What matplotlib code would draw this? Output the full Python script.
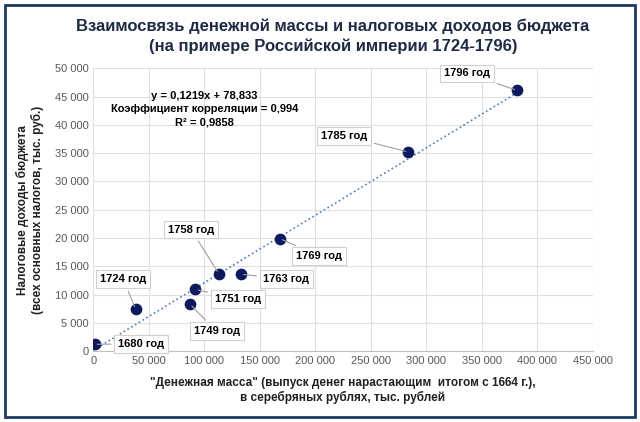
import matplotlib
matplotlib.use("Agg")
import matplotlib.pyplot as plt
import numpy as np
from matplotlib.patches import Rectangle

plt.rcParams['font.family'] = 'Liberation Sans'

years = ['1680', '1724', '1749', '1751', '1758', '1763', '1769', '1785', '1796']
money = [1000, 38000, 87000, 92000, 113000, 133000, 168000, 284000, 382000]
taxes = [1200, 7400, 8300, 10900, 13700, 13600, 19900, 35200, 46100]

# label box centres (data coords)
label_pos = {
    '1680': (43000, 1300), '1724': (27000, 12700), '1749': (111000, 3500),
    '1751': (130000, 9200), '1758': (88000, 21500), '1763': (174000, 12700),
    '1769': (203000, 16800), '1785': (226000, 38100), '1796': (337000, 49100),
}

fig = plt.figure(figsize=(6.4, 4.22), dpi=100)
fig.patches.append(Rectangle((0.008, 0.012), 0.984, 0.976, transform=fig.transFigure,
                             fill=False, edgecolor='#1f3864', linewidth=2))
ax = fig.add_axes([0.146, 0.168, 0.78, 0.67])

slope, intercept = np.polyfit(money, taxes, 1)
xs = np.array([0, max(money)])
ax.plot(xs, intercept + slope * xs, linestyle=':', color='#4a7ebb', linewidth=1.2, zorder=2)
ax.scatter(money, taxes, s=55, color='#0d1b5e', zorder=3)

for yr, x, y in zip(years, money, taxes):
    tx, ty = label_pos[yr]
    ax.annotate(yr + ' год', xy=(x, y), xytext=(tx, ty), ha='center', va='center',
                fontsize=8, fontweight='bold',
                bbox=dict(boxstyle='square,pad=0.35', fc='white', ec='#d0d0d0', lw=0.8),
                arrowprops=dict(arrowstyle='-', color='#a0a0a0', lw=0.8), zorder=4)

ax.text(100000, 42800, 'y = 0,1219x + 78,833\nКоэффициент корреляции = 0,994\nR² = 0,9858',
        ha='center', va='center', fontsize=8, fontweight='bold', linespacing=1.4)

ax.set_xlim(0, 450000)
ax.set_ylim(0, 50000)
ax.set_xticks(np.arange(0, 450001, 50000))
ax.set_yticks(np.arange(0, 50001, 5000))
fmt = lambda v: f'{int(v):,}'.replace(',', ' ')
ax.set_xticklabels([fmt(v) for v in ax.get_xticks()])
ax.set_yticklabels([fmt(v) for v in ax.get_yticks()])
ax.tick_params(labelsize=8, colors='#595959', length=0)
ax.grid(True, color='#e0e0e0', linewidth=0.8)
ax.set_axisbelow(True)
for s in ['top', 'right', 'left']:
    ax.spines[s].set_visible(False)
ax.spines['bottom'].set_color('#c0c0c0')

ax.set_xlabel('"Денежная масса" (выпуск денег нарастающим  итогом с 1664 г.),\nв серебряных рублях, тыс. рублей',
              fontsize=8.5, fontweight='bold', color='#202020', labelpad=8)
ax.set_ylabel('Налоговые доходы бюджета\n(всех основных налогов, тыс. руб.)',
              fontsize=8.5, fontweight='bold', color='#202020', labelpad=8)
fig.text(0.52, 0.915, 'Взаимосвязь денежной массы и налоговых доходов бюджета\n(на примере Российской империи 1724-1796)',
         ha='center', va='center', fontsize=12, fontweight='bold', color='#1f2a44', linespacing=1.35)

fig.savefig('out.png', dpi=100)
